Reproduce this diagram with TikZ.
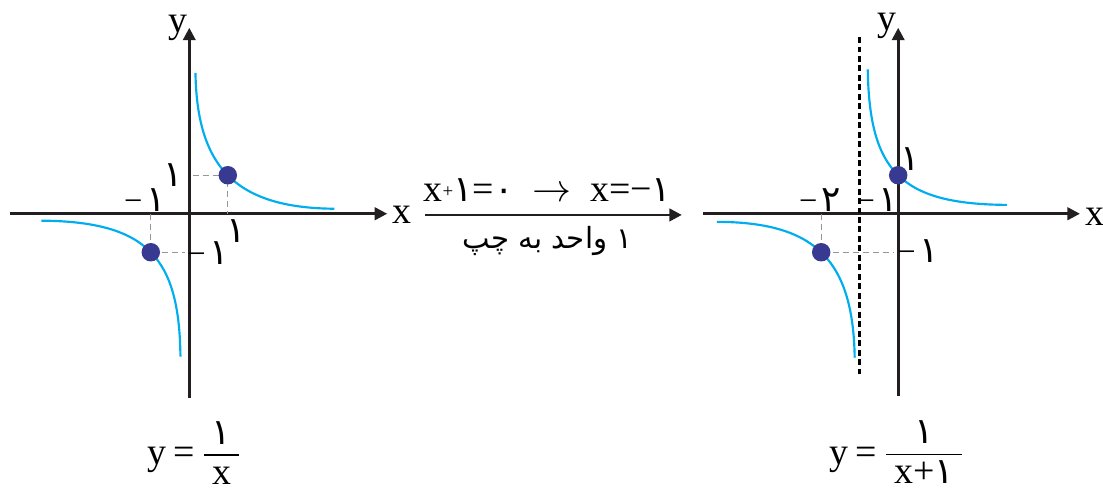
\documentclass[tikz,border=0pt]{standalone}
\usepackage{amsmath}
\usepackage{fontspec}
\setmainfont{Liberation Serif}
\newfontfamily\fa[Script=Arabic,Scale=0.95]{DejaVu Sans}
\newfontfamily\faword[Script=Arabic,Scale=0.77]{DejaVu Sans}
\TeXXeTstate=1
\usetikzlibrary{arrows.meta}
\definecolor{axisgray}{RGB}{35,31,32}
\definecolor{curveblue}{RGB}{0,174,239}
\definecolor{dotblue}{RGB}{56,58,145}
\definecolor{guidegray}{RGB}{150,150,150}
\newcommand\negnum[1]{{\fontsize{12}{12}\selectfont −}\kern1.5pt{\fa #1}}
\newcommand\onefrac[1]{$\frac{\hbox{\fa ۱}\rule[-3pt]{0pt}{0pt}}{\rule{0pt}{10pt}\hbox{\kern3pt #1\kern3pt}}$}

\begin{document}
\begin{tikzpicture}[x=0.5cm,y=0.5cm,
  every node/.style={font=\fontsize{14}{17}\selectfont,inner sep=0pt},
  axis/.style={line width=1pt,draw=axisgray,-{Triangle[length=4.6pt,width=4.6pt]}},
  branch/.style={line width=0.8pt,draw=curveblue},
  guide/.style={line width=0.5pt,draw=guidegray,dash pattern=on 2.2pt off 1.5pt},
  asymptote/.style={line width=1pt,draw=black,dash pattern=on 2.2pt off 1.3pt},
  dot/.style={fill=dotblue}]
  \useasboundingbox (0,0) rectangle (28.65,12.70);

  % Grafica de y=1/x
  \begin{scope}[shift={(4.917,7.148)}]
    \draw[axis] (-4.66,0) -- (5.14,0);
    \draw[axis] (0,-4.78) -- (0,4.83);
    % branques
    \draw[branch] (0.16,3.66) .. controls (0.2,1.25) and (1.16,0.15) .. (3.77,0.13);
    \draw[branch] (-3.84,-0.18) .. controls (-1.05,-0.2) and (-0.26,-1.17) .. (-0.23,-3.71);
    % punts i guies
    \draw[guide] (0.1,1) -- (1,1) -- (1,0);
    \draw[guide] (-1,0) -- (-1,-1) -- (-0.1,-1);
    \fill[dot] (1,1) circle (0.12cm);
    \fill[dot] (-1,-1) circle (0.12cm);
    % etiquetes
    \node (ly) at (-0.29,4.83) {y};
    \node (lx) at (5.52,-0.03) {x};
    \node (lone1y) at (-0.42,1.0) {\fa ۱};
    \node (lminus1x) at (-1.15,0.36) {\negnum{۱}};
    \node (lone1x) at (1.21,-0.44) {\fa ۱};
    \node (lminus1y) at (0.49,-1.02) {\negnum{۱}};
    \node (lformula) at (0.15,-6.22) {y\,=\,\onefrac{x}};
  \end{scope}

  % Fletxa de translacio
  \coordinate (shiftstart) at (11.04,7.117);
  \coordinate (shiftend) at (17.71,7.117);
  \draw[axis] (shiftstart) -- (shiftend);
  \node (ruletop) at (14.22,7.77) {x\raisebox{1.5pt}{\scriptsize+}{\fa ۱}={\fa ۰}\enspace$\rightarrow$\enspace x=−{\fa ۱}};
  \node (rulebottom) at (14.22,6.44) {\faword\beginR ۱ واحد به چپ\endR};

  % Grafica de y=1/(x+1)
  \begin{scope}[shift={(23.33,7.148)}]
    \draw[axis] (-5.07,0) -- (4.72,0);
    \draw[axis] (0,-4.73) -- (0,4.83);
    \draw[asymptote] (-1.01,4.59) -- (-1.01,-4.24);
    % branques
    \draw[branch] (-0.79,3.75) .. controls (-0.75,1.09) and (0.07,0.25) .. (2.82,0.23);
    \draw[branch] (-4.71,-0.21) .. controls (-2.22,-0.22) and (-1.17,-1.13) .. (-1.13,-3.74);
    % punts i guies
    \draw[guide] (-2,0) -- (-2,-1) -- (-0.1,-1);
    \fill[dot] (0,1) circle (0.12cm);
    \fill[dot] (-2,-1) circle (0.12cm);
    % etiquetes
    \node (ry) at (-0.28,4.88) {y};
    \node (rx) at (5.12,-0.07) {x};
    \node (rminus2) at (-2.03,0.36) {\negnum{۲}};
    \node (rminus1x) at (-0.54,0.36) {\negnum{۱}};
    \node (rone1y) at (0.32,1.42) {\fa ۱};
    \node (rminus1y) at (0.52,-0.98) {\negnum{۱}};
    \node (rformula) at (-0.02,-6.2) {y\,=\,\onefrac{x+{\fa ۱}}};
  \end{scope}
\end{tikzpicture}
\end{document}
